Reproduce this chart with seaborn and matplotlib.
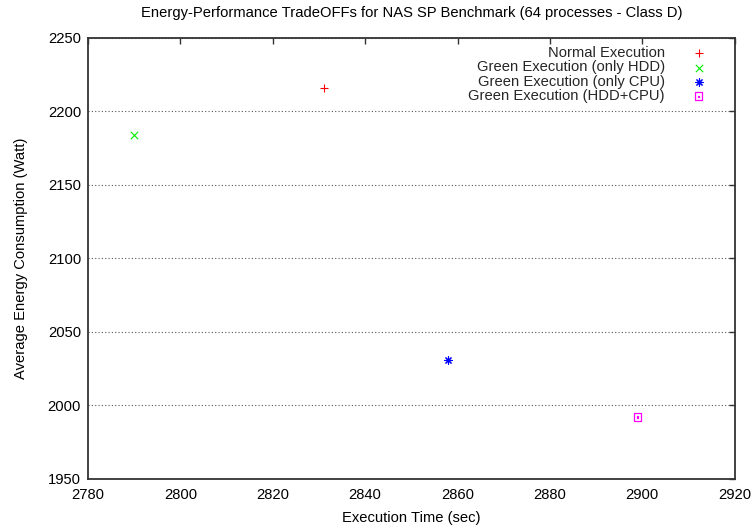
import numpy as np
import matplotlib
matplotlib.use('Agg')
import matplotlib.pyplot as plt
from matplotlib.path import Path
import seaborn as sns

series = ['Normal Execution', 'Green Execution (only HDD)',
          'Green Execution (only CPU)', 'Green Execution (HDD+CPU)']
exec_time = [2831, 2790, 2858, 2899]
energy = [2216, 2184, 2031, 1992]
colors = ['#ff0000', '#00ee00', '#0000ff', '#ff00ff']

# gnuplot-like markers: plus, cross, asterisk, open box with centre dot
box = Path.make_compound_path(
    Path([(-1, -1), (1, -1), (1, 1), (-1, 1), (-1, -1)],
         [Path.MOVETO, Path.LINETO, Path.LINETO, Path.LINETO, Path.CLOSEPOLY]),
    Path([(-0.15, -0.15), (0.15, -0.15), (0.15, 0.15), (-0.15, 0.15), (-0.15, -0.15)],
         [Path.MOVETO, Path.LINETO, Path.LINETO, Path.LINETO, Path.CLOSEPOLY]))
markers = ['+', 'x', (8, 2, 0), box]

sns.set_theme(style='white')
plt.rcParams['font.family'] = ['Liberation Sans', 'DejaVu Sans']
fs = 10.6

fig = plt.figure(figsize=(7.54, 5.27), dpi=100)
ax = fig.add_axes([88 / 754, (527 - 478.7) / 527, 646.7 / 754, 441 / 527])

for i in range(len(series)):
    if i == 3:
        sns.scatterplot(x=[exec_time[i]], y=[energy[i]], marker=markers[i], s=28,
                        facecolor='none', edgecolor=colors[i], linewidth=0.9,
                        label=series[i], ax=ax)
    else:
        sns.scatterplot(x=[exec_time[i]], y=[energy[i]], marker=markers[i], s=28,
                        color=colors[i], linewidth=0.8, label=series[i], ax=ax)

ax.set_xlim(2780, 2920)
ax.set_ylim(1950, 2250)
ax.set_xticks(np.arange(2780, 2921, 20))
ax.set_yticks(np.arange(1950, 2251, 50))
ax.yaxis.grid(True, linestyle=(0, (1, 2)), color='#555555', linewidth=0.8)
ax.xaxis.grid(False)
ax.tick_params(direction='in', length=4.5, width=1.0, color='#333333',
               top=True, right=True, labelsize=fs, pad=5, labelcolor='black')
ax.tick_params(axis='x', pad=7)
for sp in ax.spines.values():
    sp.set_color('#333333')
    sp.set_linewidth(1.3)

ax.set_xlabel('Execution Time (sec)', fontsize=fs, labelpad=6, color='black')
ax.set_ylabel('Average Energy Consumption (Watt)', fontsize=fs, labelpad=14, color='black')
ax.set_title('Energy-Performance TradeOFFs for NAS SP Benchmark (64 processes - Class D)',
             fontsize=fs, pad=15, color='black')

ax.legend(loc='upper right', bbox_to_anchor=(0.967, 0.981), frameon=False,
          markerfirst=False, fontsize=fs, labelspacing=0.02, handletextpad=1.3,
          handlelength=2.0, borderpad=0, borderaxespad=0)

fig.savefig('out.png', dpi=100)
